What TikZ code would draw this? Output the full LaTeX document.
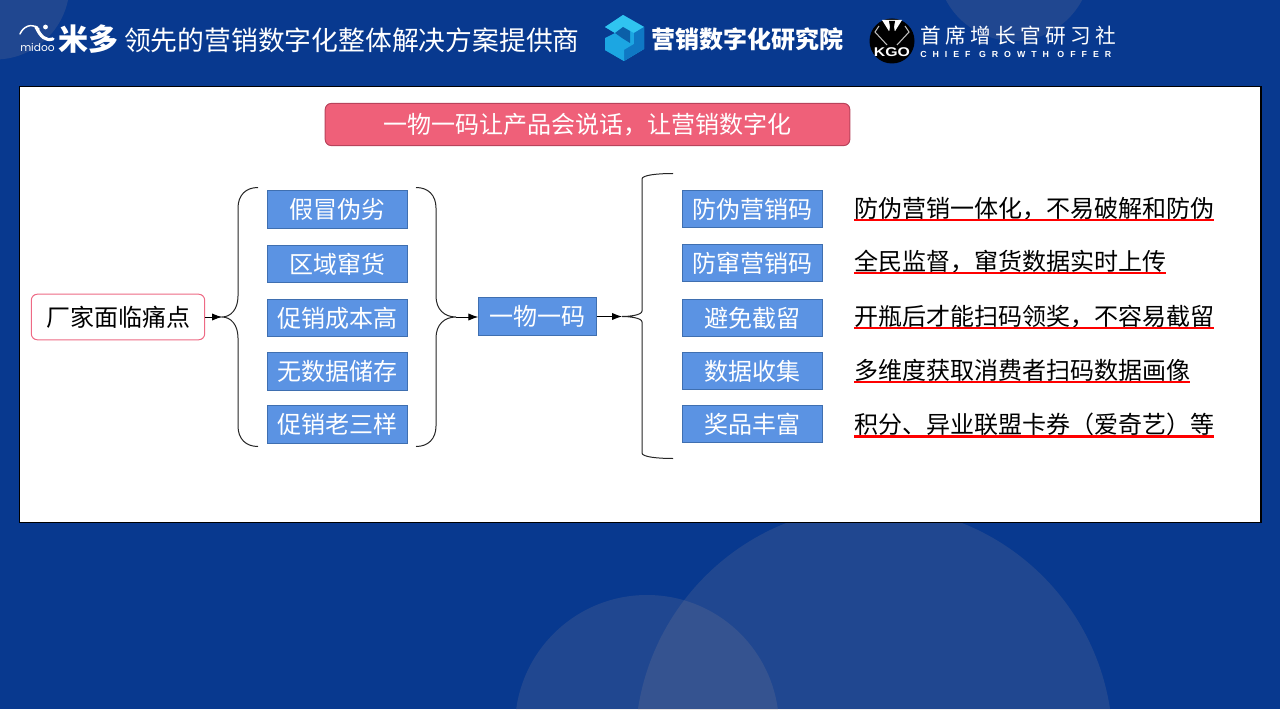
\documentclass[tikz,border=0pt]{standalone}
\usepackage{fontspec}
\setmainfont{Noto Sans CJK SC}
\newfontfamily\latinfont{Liberation Sans}
\newfontfamily\roundfont{Poppins}
\usetikzlibrary{arrows.meta,calc}
\definecolor{bgblue}{HTML}{08398F}
\definecolor{boxblue}{HTML}{5B93E3}
\definecolor{boxedge}{HTML}{3F6FB0}
\definecolor{rosefill}{HTML}{EF6079}
\definecolor{roseedge}{HTML}{B8435B}
\definecolor{rosepale}{HTML}{EE6A85}
\definecolor{bubbletint}{HTML}{AF9D96}
\definecolor{cubemain}{HTML}{1CA6E2}
\definecolor{cubetop}{HTML}{30C4F0}
\definecolor{cubedark}{HTML}{0F78C4}
\definecolor{cubedeep}{HTML}{0B5FA8}
\tikzset{
  px/.style={x=0.75pt,y=-0.75pt},
  cjk/.style={font=\fontsize{18}{18}\selectfont,text height=15.84pt,text depth=2.16pt,inner sep=0pt,outer sep=0pt},
  bluebox/.style={cjk,draw=boxedge,line width=0.75pt,fill=boxblue,text=white,minimum width=105.2pt,minimum height=28.4pt},
  note/.style={cjk,anchor=west,text=black},
  redline/.style={draw=red,line width=1.9pt},
  brace/.style={draw=black!85,line width=0.75pt},
  conn/.style={draw=black,line width=0.75pt,-{Latex[length=7.5pt,width=5.5pt]}},
  bubble/.style={fill=bubbletint,fill opacity=0.15},
}
\begin{document}
\begin{tikzpicture}[px]
\useasboundingbox (0,0) rectangle (1280,720);
\fill[white] (0,0) rectangle (1280,720);
\fill[bgblue] (0,0) rectangle (1280,709);
\begin{scope}
\clip (0,0) rectangle (1280,709);
\fill[bubble] (-5,-15) circle[radius=74.5];
\fill[bubble] (1014,-36) circle[radius=77];
\fill[bubble] (874,745) circle[radius=238.7];
\fill[bubble] (647,727) circle[radius=132];
\end{scope}

% header: midoo mark
\draw[white,line width=1.1pt,line cap=round] (20,34) .. controls (23,27) and (31,22) .. (39,29);
\draw[white,line width=2.4pt,line cap=round] (36,27) .. controls (41,37) and (45,41) .. (53,39);
\fill[white] (45.5,27) circle[radius=2.4];
\node[white,inner sep=0pt,anchor=center,font=\roundfont\fontsize{8}{8}\selectfont] (midoo) at (37.5,47) {midoo};
\node[white,inner sep=0pt,anchor=west,font=\bfseries\fontsize{22.5}{22.5}\selectfont] (mido) at (58,39) {米多};
\node[white,inner sep=0pt,outer sep=0pt,anchor=west,font=\fontsize{20.1}{20.1}\selectfont] (slogan) at (124,40) {领先的营销数字化整体解决方案提供商};

% header: cube mark
\fill[cubemain] (623,15) -- (644,27) -- (644,49) -- (624,61) -- (605,50) -- (605,38) -- (615,33) -- (605,27) -- cycle;
\fill[cubetop] (623,15) -- (644,27) -- (634,33) -- (623,27) -- (615,33) -- (605,27) -- cycle;
\fill[cubedark] (644,27) -- (644,49) -- (624,61) -- (624,50) -- (634,44) -- (634,33) -- cycle;
\fill[cubemain] (605,38) -- (624,50) -- (624,61) -- (605,50) -- cycle;
\fill[cubedeep] (615,33) -- (623,27) -- (630,31) -- (630,43) -- (622,38) -- cycle;
\node[white,inner sep=0pt,anchor=west,font=\bfseries\fontsize{18}{18}\selectfont] (inst) at (651,39) {营销数字化研究院};

% header: CGO mark
\fill[black] (892,41) circle[radius=22.5];
\fill[white] (882,20) -- (902,20) -- (892,36) -- cycle;
\fill[black] (889,21) -- (895,21) -- (894,27) -- (896,38) -- (892,45) -- (888,38) -- (890,27) -- cycle;
\draw[white!75!black,line width=0.8pt] (879,26) -- (875,32) -- (887,45);
\draw[white!75!black,line width=0.8pt] (905,26) -- (909,32) -- (897,45);
\node[white,inner sep=0pt,font=\latinfont\bfseries\fontsize{9.5}{9.5}\selectfont,xscale=1.25] (cgomark) at (892,52.5) {KGO};
\node[white,inner sep=0pt,anchor=west,font=\fontsize{15.5}{15.5}\selectfont\addfontfeature{LetterSpace=21}] (club) at (920,36) {首席增长官研习社};
\node[white,inner sep=0pt,anchor=west,font=\latinfont\bfseries\fontsize{6.6}{6.6}\selectfont\addfontfeature{LetterSpace=68}] (cgo) at (920,54.5) {CHIEF GROWTH OFFER};

% card
\draw[black,fill=white,line width=0.9pt] (19.5,86.5) rectangle (1261,522.5);

% title
\node[cjk,draw=roseedge,line width=0.75pt,fill=rosefill,text=white,rounded corners=4.5pt,minimum width=393.4pt,minimum height=31.6pt] (title) at (587.5,124.5) {一物一码让产品会说话，让营销数字化};

% source
\node[cjk,draw=rosepale,line width=0.75pt,fill=white,text=black,rounded corners=4.5pt,minimum width=130pt,minimum height=34.2pt] (src) at (118,317) {厂家面临痛点};

% left column
\node[bluebox] (l1) at (337.5,209.5) {假冒伪劣};
\node[bluebox] (l2) at (337.5,264) {区域窜货};
\node[bluebox] (l3) at (337.5,318) {促销成本高};
\node[bluebox] (l4) at (337.5,371.5) {无数据储存};
\node[bluebox] (l5) at (337.5,424.5) {促销老三样};

% middle
\node[bluebox,minimum width=88.8pt] (mid) at (537.5,316.5) {一物一码};

% right column
\node[bluebox] (r1) at (752.5,209) {防伪营销码};
\node[bluebox] (r2) at (752.5,263) {防窜营销码};
\node[bluebox] (r3) at (752.5,318) {避免截留};
\node[bluebox] (r4) at (752.5,371) {数据收集};
\node[bluebox] (r5) at (752.5,424) {奖品丰富};

% notes
\node[note] (n1) at (854,208) {防伪营销一体化，不易破解和防伪};
\node[note] (n2) at (854,261) {全民监督，窜货数据实时上传};
\node[note] (n3) at (854,316) {开瓶后才能扫码领奖，不容易截留};
\node[note] (n4) at (854,370) {多维度获取消费者扫码数据画像};
\node[note] (n5) at (854,424.5) {积分、异业联盟卡券（爱奇艺）等};
\foreach \n in {n1,n2,n3,n4,n5} \draw[redline] (\n.south west) -- (\n.south east);

% braces
\coordinate (tipa) at (222,317);
\coordinate (tipb) at (456,317);
\coordinate (tipc) at (622,316.5);
\draw[brace] (258,187.5) .. controls (246,187.5) and (238,195) .. (238,208) -- (238,296) .. controls (238,309) and (231,317) .. (tipa) .. controls (231,317) and (238,325) .. (238,338) -- (238,426) .. controls (238,439) and (246,446.5) .. (258,446.5);
\draw[brace] (416,187.5) .. controls (428,187.5) and (436,195) .. (436,208) -- (436,296) .. controls (436,309) and (444,317) .. (tipb) .. controls (444,317) and (436,325) .. (436,338) -- (436,426) .. controls (436,439) and (428,446.5) .. (416,446.5);
\draw[brace] (673,173.5) .. controls (658,173.5) and (642,175) .. (642,179) -- (642,311) .. controls (642,315) and (630,316.5) .. (tipc) .. controls (630,316.5) and (642,318) .. (642,322) -- (642,453) .. controls (642,457) and (658,458.5) .. (673,458.5);

% connectors
\draw[conn] (src.east) -- (tipa);
\draw[conn] (tipb) -- (mid.west |- tipb);
\draw[conn] (mid.east |- tipc) -- (tipc);
\end{tikzpicture}
\end{document}
